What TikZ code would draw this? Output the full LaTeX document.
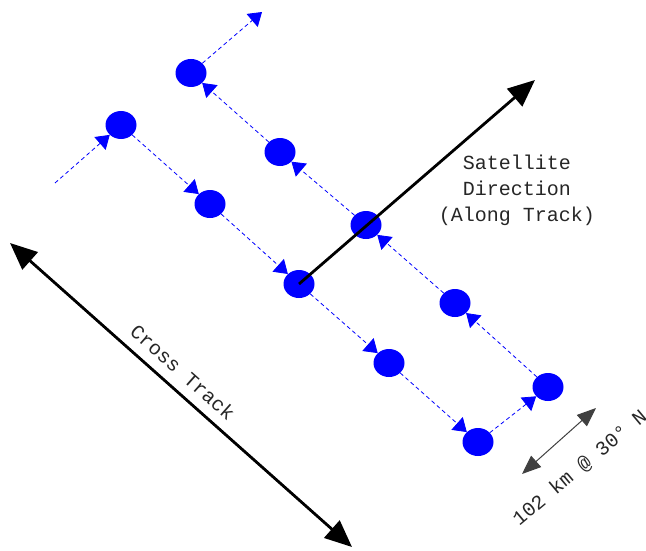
\documentclass[tikz,border=0pt]{standalone}
\usepackage{fontspec}
\setmonofont{Liberation Mono}
\usepackage{tikz}
\usetikzlibrary{shapes.geometric,arrows.meta}
\tikzset{
  spot/.style={
    ellipse, fill=blue, draw=none,
    minimum width=31pt, minimum height=28pt, inner sep=0pt
  },
  trackarrow/.style={-{Triangle[length=13pt,width=17pt]}, draw=blue!70, line width=0.8pt,
    dash pattern=on 4pt off 3pt, color=blue},
  bigarrow/.style={-{Triangle[length=27pt,width=23pt]}, line width=2.8pt, draw=black},
  bigboth/.style={{Triangle[length=27pt,width=23pt]}-{Triangle[length=27pt,width=23pt]}, line width=2.8pt, draw=black},
  gaparrow/.style={{Triangle[length=19pt,width=15pt]}-{Triangle[length=19pt,width=15pt]}, line width=1pt, draw=black!75},
  axislabel/.style={font=\ttfamily\fontsize{20}{26}\selectfont, text=black!85, inner sep=0pt, align=center},
}
\begin{document}
\begin{tikzpicture}[x=1pt, y=-1pt]
  \useasboundingbox (0,0) rectangle (646,551);
  % footprints
  \node (a1) [spot] at (121,125) {};
  \node (a2) [spot] at (210,204) {};
  \node (a3) [spot] at (299,284) {};
  \node (a4) [spot] at (389,363) {};
  \node (a5) [spot] at (478,442) {};
  \node (b1) [spot] at (548,387) {};
  \node (b2) [spot] at (455,303) {};
  \node (b3) [spot] at (366,225) {};
  \node (b4) [spot] at (280,152) {};
  \node (b5) [spot] at (191,73) {};
  \coordinate (in)  at (55,183);
  \coordinate (out) at (262,12);
  % scan path
  \draw[trackarrow] (in)--(a1); \draw[trackarrow] (a1)--(a2); \draw[trackarrow] (a2)--(a3);
  \draw[trackarrow] (a3)--(a4); \draw[trackarrow] (a4)--(a5); \draw[trackarrow] (a5)--(b1);
  \draw[trackarrow] (b1)--(b2); \draw[trackarrow] (b2)--(b3); \draw[trackarrow] (b3)--(b4);
  \draw[trackarrow] (b4)--(b5); \draw[trackarrow] (b5)--(out);
  % directions
  \coordinate (sat) at (535,80);
  \draw[bigarrow] (a3.center)--(sat);
  \node (satlbl) [axislabel] at (517,190) {Satellite\\Direction\\(Along Track)};
  \coordinate (ct1) at (10,243);
  \coordinate (ct2) at (352,547);
  \draw[bigboth] (ct1)--(ct2);
  \node (ctlbl) [axislabel, rotate=-41.6] at (183,372) {Cross Track};
  \coordinate (g1) at (522,474);
  \coordinate (g2) at (596,408);
  \draw[gaparrow] (g1)--(g2);
  \node (glbl) [axislabel, rotate=40] at (580,468) {102 km @ 30° N};
\end{tikzpicture}
\end{document}
